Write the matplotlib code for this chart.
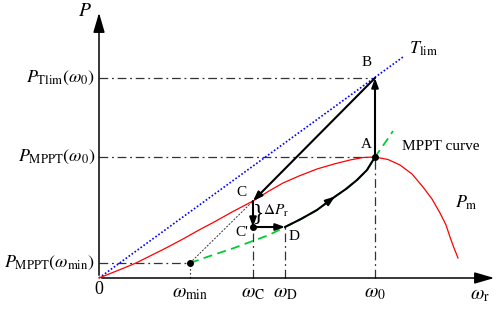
import matplotlib
matplotlib.use("Agg")
import matplotlib.pyplot as plt

plt.rcParams['font.family'] = ['Liberation Serif', 'DejaVu Serif']
plt.rcParams['mathtext.fontset'] = 'stix'

# ---------- key speeds / powers ----------
w_min, w_C, w_D, w_0 = 91, 154, 186, 276
P_min, P_Cp, P_C, P_A, P_B = 15, 51, 77, 121, 200

# ---------- curves ----------
pm_w = [0, 20, 37, 52, 67, 84, 100, 117, 133, 154, 170, 184, 200, 218, 235, 251,
        264, 276, 289, 301, 313, 324, 333, 341, 347, 351, 355, 359]
pm_P = [0, 8, 15, 22.5, 30, 39, 48, 57, 66, 77, 87, 95, 102, 109, 114, 118,
        120.5, 121, 118.5, 113, 104, 91, 79, 65, 53, 41, 30, 20]

mppt_w = [91, 105, 120, 135, 151, 170, 186, 202, 218, 234, 247, 258, 268, 276, 288, 294]
mppt_P = [15, 20, 25, 30, 36, 43, 51, 59, 68, 80, 89, 98, 108, 121, 138, 147]

path_w = [186, 202, 218, 234, 247, 258, 268, 276]
path_P = [51, 59, 68, 80, 89, 98, 108, 121]

tlim_w = [0, 304]
tlim_P = [0, 221]

fig = plt.figure(figsize=(4.98, 3.11), dpi=100)
ax = fig.add_axes([0, 0, 1, 1])
ax.set_xlim(-99, 399)
ax.set_ylim(-33, 278)
ax.axis('off')

k = 'black'
g = '#333333'
dd = (0, (7, 3, 1.5, 3))

# ---------- axes ----------
ax.annotate('', xy=(398, 0), xytext=(0, 0),
            arrowprops=dict(arrowstyle='-|>,head_length=1.2,head_width=0.35', color=k, lw=1.1))
ax.annotate('', xy=(0, 268), xytext=(0, 0),
            arrowprops=dict(arrowstyle='-|>,head_length=1.2,head_width=0.35', color=k, lw=1.1))

# ---------- guide lines ----------
ax.plot([0, w_0], [P_B, P_B], color=g, lw=0.9, ls=dd)
ax.plot([0, w_0], [P_A, P_A], color=g, lw=0.9, ls=dd)
ax.plot([0, w_min], [P_min, P_min], color=g, lw=0.9, ls=dd)
ax.plot([w_0, w_0], [0, P_A], color=g, lw=0.9, ls=dd)
ax.plot([w_C, w_C], [0, P_Cp], color=g, lw=0.9, ls=dd)
ax.plot([w_D, w_D], [0, P_Cp], color=g, lw=0.9, ls=dd)
ax.plot([w_min, w_min], [0, P_min], color=g, lw=0.8, ls=(0, (1.5, 2)))
ax.plot([w_min, w_C], [P_min, P_C], color=g, lw=0.7, ls=(0, (2, 1.5)))

# ---------- curves ----------
ax.plot(tlim_w, tlim_P, color='blue', lw=1.2, ls=(0, (1, 1.2)))
ax.plot(pm_w, pm_P, color='red', lw=0.9)
ax.plot(mppt_w, mppt_P, color='#00cc33', lw=1.3, ls=(0, (5, 3)))
ax.plot(path_w, path_P, color=k, lw=1.5)

# ---------- path arrows ----------
arr = dict(arrowstyle='-|>,head_length=0.55,head_width=0.2', color=k, lw=1.5,
           shrinkA=0, shrinkB=0)
ax.annotate('', xy=(w_0, P_B), xytext=(w_0, P_A), arrowprops=arr)
ax.annotate('', xy=(w_C, P_C), xytext=(w_0, P_B), arrowprops=arr)
ax.annotate('', xy=(w_C, P_Cp), xytext=(w_C, P_C), arrowprops=arr)
ax.annotate('', xy=(w_D, P_Cp), xytext=(w_C, P_Cp), arrowprops=arr)
ax.annotate('', xy=(path_w[3] + 2, path_P[3] + 1.5), xytext=(path_w[3] - 4, path_P[3] - 3),
            arrowprops=arr)

ax.plot([w_0, w_C, w_min], [P_A, P_Cp, P_min], 'o', color=k, ms=4)

# ---------- text ----------
ax.text(-14, 266, '$P$', fontsize=14, ha='center', va='center')
ax.text(0, -12, '0', fontsize=13, ha='center', va='center')
ax.text(381, -18, r'$\omega_{\mathrm{r}}$', fontsize=14, ha='center', va='center')
for w, lab in zip([w_min, w_C, w_D, w_0],
                  [r'$\omega_{\mathrm{min}}$', r'$\omega_{\mathrm{C}}$',
                   r'$\omega_{\mathrm{D}}$', r'$\omega_0$']):
    ax.text(w, -7, lab, fontsize=14, ha='center', va='top')

ax.text(-4, P_B, r'$P_{\mathrm{Tlim}}(\omega_0)$', fontsize=13, ha='right', va='center')
ax.text(-4, P_A, r'$P_{\mathrm{MPPT}}(\omega_0)$', fontsize=13, ha='right', va='center')
ax.text(-4, P_min, r'$P_{\mathrm{MPPT}}(\omega_{\mathrm{min}})$', fontsize=13, ha='right', va='center')

ax.text(268, 215, 'B', fontsize=11, ha='center', va='center')
ax.text(267, 133, 'A', fontsize=11, ha='center', va='center')
ax.text(142, 85, 'C', fontsize=11, ha='center', va='center')
ax.text(143, 45, "C'", fontsize=11, ha='center', va='center')
ax.text(195, 41, 'D', fontsize=11, ha='center', va='center')
ax.text(159.5, 64, '}', fontsize=17, ha='center', va='center', fontweight='light')
ax.text(164, 67, r'$\Delta P_{\mathrm{r}}$', fontsize=11, ha='left', va='center')
ax.text(303, 131, 'MPPT curve', fontsize=11, ha='left', va='center')
ax.text(356, 75, r'$P_{\mathrm{m}}$', fontsize=13, ha='left', va='center')
ax.text(310, 229, r'$T_{\mathrm{lim}}$', fontsize=13, ha='left', va='center')

fig.savefig('out.png', dpi=100)
